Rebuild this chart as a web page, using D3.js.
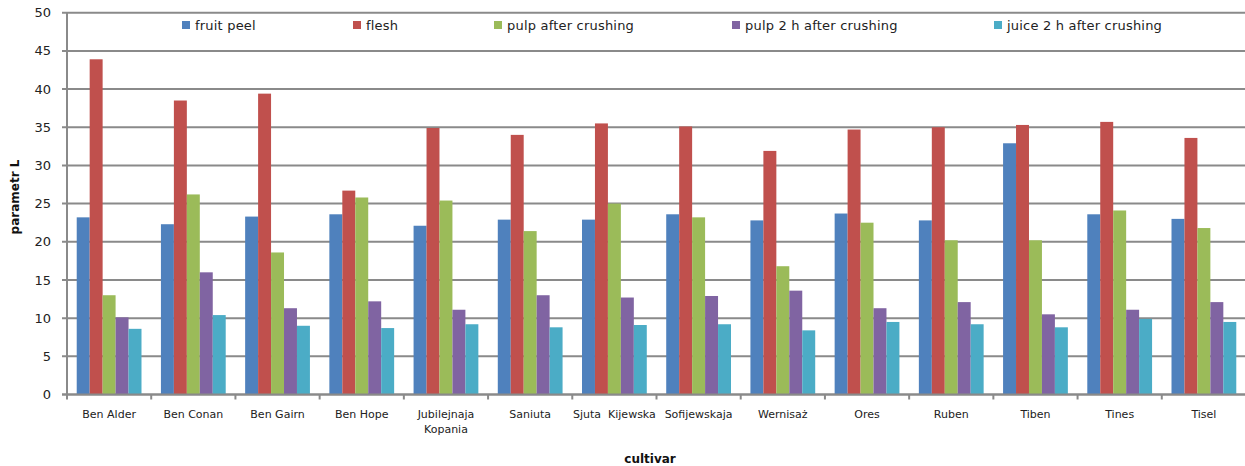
<!DOCTYPE html>
<html><head><meta charset="utf-8">
<script src="https://cdn.jsdelivr.net/npm/d3@7/dist/d3.min.js"></script>
<style>body{margin:0;background:#fff}svg{display:block}</style>
</head><body>
<svg id="c" width="1245" height="466"></svg>
<script>
const categories = ["Ben Alder","Ben Conan","Ben Gairn","Ben Hope","Jubilejnaja\nKopania","Saniuta","Sjuta  Kijewska","Sofijewskaja","Wernisaż","Ores","Ruben","Tiben","Tines","Tisel"];
const seriesNames = ["fruit peel","flesh","pulp after crushing","pulp 2 h after crushing","juice 2 h after crushing"];
const fruitPeel = [23.2,22.3,23.3,23.6,22.1,22.9,22.9,23.6,22.8,23.7,22.8,32.9,23.6,23.0];
const flesh     = [43.9,38.5,39.4,26.7,34.9,34.0,35.5,35.1,31.9,34.7,35.0,35.3,35.7,33.6];
const pulpAfter = [13.0,26.2,18.6,25.8,25.4,21.4,25.0,23.2,16.8,22.5,20.2,20.2,24.1,21.8];
const pulp2h    = [10.1,16.0,11.3,12.2,11.1,13.0,12.7,12.9,13.6,11.3,12.1,10.5,11.1,12.1];
const juice2h   = [8.6,10.4,9.0,8.7,9.2,8.8,9.1,9.2,8.4,9.5,9.2,8.8,9.9,9.5];
const yTicks = [0,5,10,15,20,25,30,35,40,45,50];
const colors = ["#4F81BD","#C0504D","#9BBB59","#8064A2","#4BACC6"];

const series = [fruitPeel, flesh, pulpAfter, pulp2h, juice2h];
const svg = d3.select("#c");
const L = 67, R = 1246, T = 12.7, B = 394.5;
const font = "DejaVu Sans, Verdana, sans-serif";

const x = d3.scaleBand().domain(categories).range([L, R]).paddingInner(1.5/6.5).paddingOuter(0.75/6.5);
const xs = d3.scaleBand().domain(d3.range(5)).range([0, x.bandwidth()]);
const y = d3.scaleLinear().domain([0,50]).range([B, T]);

// gridlines
svg.append("g").selectAll("line").data(yTicks).join("line")
  .attr("x1", L-5).attr("x2", R).attr("y1", d=>y(d)).attr("y2", d=>y(d))
  .attr("stroke", "#8a8a8a").attr("stroke-width", 2);

// y labels
svg.append("g").selectAll("text").data(yTicks).join("text")
  .attr("x", 51).attr("y", d=>y(d)).attr("dy","0.35em").attr("text-anchor","end")
  .attr("font-family", font).attr("font-size", 13).attr("fill","#222").text(d=>d);

// bars
categories.forEach((c,i)=>{
  series.forEach((s,j)=>{
    svg.append("rect").attr("x", x(c)+xs(j)).attr("width", xs.bandwidth())
      .attr("y", y(s[i])).attr("height", y(0)-y(s[i])).attr("fill", colors[j]);
  });
});

// axes lines
svg.append("line").attr("x1",L).attr("x2",L).attr("y1",T).attr("y2",B+1).attr("stroke","#8a8a8a").attr("stroke-width",2);
svg.append("line").attr("x1",L-5).attr("x2",R).attr("y1",B).attr("y2",B).attr("stroke","#8a8a8a").attr("stroke-width",2);
// x ticks at boundaries
const step = x.step();
svg.append("g").selectAll("line").data(d3.range(categories.length+1)).join("line")
  .attr("x1", d=>L + d*step).attr("x2", d=>L + d*step).attr("y1", B).attr("y2", B+5)
  .attr("stroke","#8a8a8a").attr("stroke-width",2);

// x labels
categories.forEach(c=>{
  const lines = c.split("\n");
  const t = svg.append("text").attr("x", x(c)+x.bandwidth()/2).attr("y", 414).attr("dy","0.35em")
    .attr("text-anchor","middle").attr("font-family", font).attr("font-size", 11).attr("fill","#222")
    .style("white-space","pre");
  lines.forEach((l,k)=>t.append("tspan").attr("x", x(c)+x.bandwidth()/2).attr("dy", k===0?"0.35em":"15").text(l));
});

// axis titles
svg.append("text").attr("x", 650).attr("y", 459).attr("dy","0.35em").attr("text-anchor","middle")
  .attr("font-family", font).attr("font-size", 12).attr("font-weight","bold").attr("fill","#111").text("cultivar");
svg.append("text").attr("transform","translate(15,197) rotate(-90)").attr("dy","0.35em").attr("text-anchor","middle")
  .attr("font-family", font).attr("font-size", 12).attr("font-weight","bold").attr("fill","#111").text("parametr L");

// legend
const legX = [182, 353, 494, 732, 994];
seriesNames.forEach((n,j)=>{
  svg.append("rect").attr("x", legX[j]).attr("y", 21).attr("width", 8).attr("height", 8).attr("fill", colors[j]);
  svg.append("text").attr("x", legX[j]+13).attr("y", 25).attr("dy","0.35em")
    .attr("font-family", font).attr("font-size", 13).attr("letter-spacing", 0.2).attr("fill","#222").text(n);
});
</script>
</body></html>
